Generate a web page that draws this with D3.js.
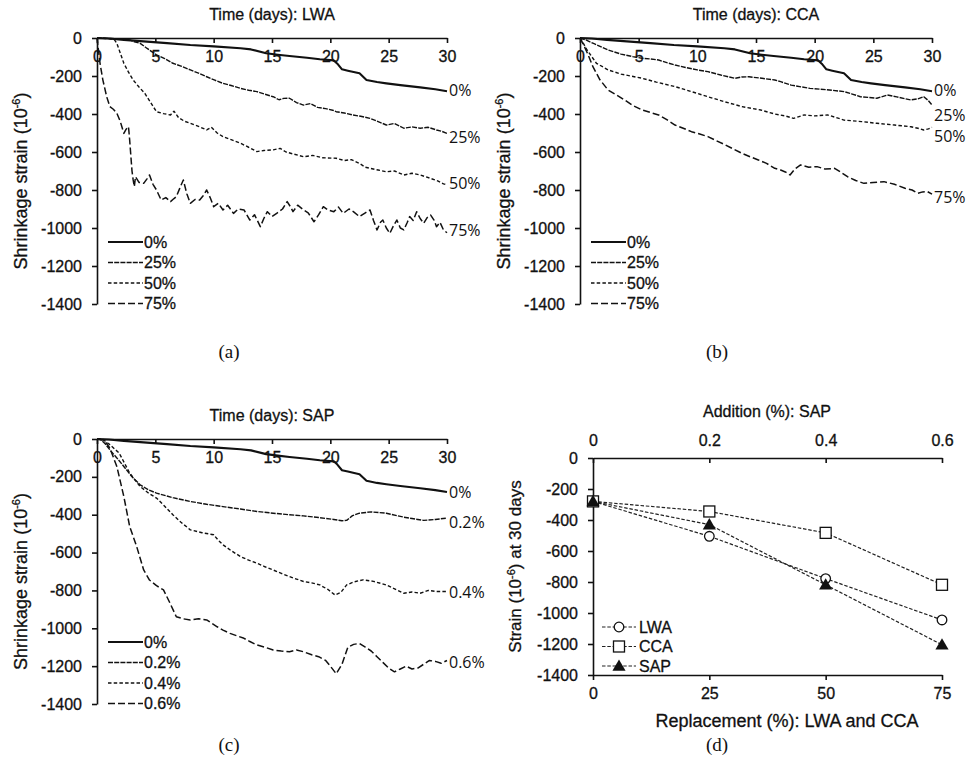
<!DOCTYPE html>
<html><head><meta charset="utf-8">
<script src="https://cdn.jsdelivr.net/npm/d3@7"></script>
<style>
body{margin:0;background:#fff;}
svg text{font-family:"Liberation Sans",Arial,sans-serif;fill:#111;stroke:#111;stroke-width:0.3px;}
svg text.plain{stroke:none;}
</style></head>
<body><svg id="c" width="972" height="772"></svg>
<script>
// ---------------- DATA ----------------
const dayTicks = [0,5,10,15,20,25,30];
const strainTicks = [0,-200,-400,-600,-800,-1000,-1200,-1400];

// reference mix (0%) — [day, strain 10^-6]
const control = [[0,0],[1,-3],[2.3,-10],[4,-18],[6,-27],[8,-37],[10,-44],[12.3,-54],[13.2,-60],[14.5,-80],[15.5,-88],[16.5,-95],[18,-104],[19.1,-112],[20.3,-118],[20.6,-135],[21,-165],[21.5,-172],[22.5,-186],[23.1,-221],[24,-232],[24.8,-239],[26,-248],[27.7,-260],[29,-270],[30,-280]];

const lwa25 = [[0,0],[1,-2],[2,-5],[2.8,-10],[3.2,-20],[3.7,-28],[4.3,-55],[5.1,-89],[5.8,-108],[6.5,-133],[7.2,-148],[8,-168],[8.7,-185],[9.4,-204],[10.1,-222],[10.8,-239],[11.5,-250],[12.3,-265],[13,-275],[13.7,-282],[14.4,-296],[15.1,-309],[15.6,-325],[16,-318],[16.5,-317],[17.1,-340],[17.7,-353],[18.3,-345],[18.9,-365],[19.6,-372],[20.2,-380],[20.5,-388],[21.2,-395],[21.9,-405],[22.6,-412],[23.4,-423],[24.1,-440],[24.8,-458],[25.5,-450],[26.3,-475],[27,-468],[27.7,-475],[28.4,-470],[29.1,-484],[29.5,-490],[30,-502]];
const lwa50 = [[0,0],[1,-3],[1.5,-10],[1.7,-28],[2,-80],[2.3,-133],[2.7,-180],[3.1,-221],[3.6,-258],[4.1,-291],[4.6,-340],[5.1,-388],[5.7,-398],[6.3,-405],[6.6,-385],[7,-420],[7.5,-438],[8,-449],[8.7,-465],[9.4,-484],[9.8,-470],[10.3,-500],[10.8,-519],[11.5,-535],[12.3,-554],[13,-575],[13.7,-598],[14.3,-592],[15.1,-589],[15.7,-581],[16.2,-600],[16.8,-610],[17.7,-625],[18.5,-618],[19.3,-630],[20.5,-633],[21.2,-645],[21.8,-640],[22.5,-660],[23,-680],[23.4,-686],[24.1,-695],[24.8,-704],[25.5,-700],[26.3,-721],[27,-712],[27.7,-721],[28.6,-739],[29.2,-752],[29.7,-768],[30,-772]];
const lwa75 = [[0,0],[0.26,-133],[0.5,-220],[0.83,-309],[1.1,-361],[1.4,-375],[1.7,-396],[2,-440],[2.3,-502],[2.5,-480],[2.7,-467],[2.8,-537],[3.0,-700],[3.1,-747],[3.2,-782],[3.3,-730],[3.6,-760],[4.0,-765],[4.3,-740],[4.5,-721],[4.8,-770],[5.1,-800],[5.5,-853],[5.9,-840],[6.3,-861],[6.6,-845],[6.8,-835],[7.1,-790],[7.4,-747],[7.7,-820],[8.0,-870],[8.4,-850],[8.8,-853],[9.1,-830],[9.4,-800],[9.7,-840],[10,-888],[10.4,-870],[10.8,-905],[11.2,-880],[11.7,-923],[12.1,-900],[12.6,-905],[13.1,-958],[13.5,-930],[14,-993],[14.3,-950],[14.6,-914],[15,-940],[15.4,-923],[15.9,-900],[16.3,-861],[16.6,-890],[16.8,-914],[17.2,-880],[17.7,-905],[18.1,-920],[18.6,-967],[19,-930],[19.4,-888],[19.8,-905],[20.3,-914],[20.7,-890],[21.1,-923],[21.6,-900],[22,-915],[22.5,-940],[23,-920],[23.4,-905],[23.7,-960],[24,-1010],[24.3,-970],[24.5,-958],[24.8,-1000],[25.1,-1028],[25.4,-990],[25.7,-958],[26,-1000],[26.3,-1010],[26.6,-970],[26.8,-940],[27.1,-960],[27.4,-914],[27.7,-950],[28,-975],[28.3,-945],[28.6,-932],[28.9,-960],[29.1,-993],[29.4,-970],[29.7,-1010],[30,-1025]];

const cca25 = [[0,0],[0.5,-10],[1.2,-30],[2.4,-63],[3.5,-85],[4.5,-98],[5.3,-107],[6,-110],[6.7,-116],[7.4,-130],[8.1,-142],[9,-155],[10,-168],[10.9,-177],[12,-195],[13.2,-212],[13.8,-205],[14.4,-204],[15.5,-212],[16.6,-221],[17.1,-230],[18,-248],[19.6,-265],[21,-272],[22.5,-282],[23.2,-295],[23.9,-309],[25.3,-317],[26.2,-300],[27,-310],[28.2,-326],[28.8,-320],[29.3,-309],[29.7,-330],[30,-353]];
const cca50 = [[0,0],[0.3,-30],[0.6,-63],[1.4,-133],[2.4,-168],[3.5,-190],[5.3,-212],[6.5,-232],[8.1,-256],[9.5,-282],[10.9,-309],[12.3,-335],[13.8,-361],[15.4,-379],[16.6,-400],[17.5,-410],[18.2,-423],[18.6,-415],[19.1,-405],[20,-410],[21.1,-405],[21.8,-418],[22.5,-432],[24,-440],[25.3,-449],[26.8,-458],[28.2,-467],[28.8,-475],[29.3,-484],[29.7,-478],[30,-470]];
const cca75 = [[0,0],[0.3,-35],[0.7,-90],[1.1,-151],[1.7,-220],[2.4,-274],[3.1,-300],[3.8,-326],[4.5,-355],[5.3,-379],[6,-392],[6.7,-405],[7.4,-430],[8.1,-458],[8.8,-475],[9.5,-493],[10.2,-505],[10.9,-519],[11.6,-540],[12.4,-563],[13.1,-585],[13.8,-607],[14.5,-625],[15.2,-642],[15.9,-660],[16.6,-686],[17.1,-695],[17.5,-705],[17.9,-721],[18.3,-690],[18.8,-668],[19.5,-680],[20.2,-677],[20.9,-690],[21.7,-686],[22.2,-705],[22.8,-730],[23.5,-750],[24.2,-765],[25,-760],[25.9,-756],[26.8,-770],[27.7,-791],[28.3,-800],[28.8,-817],[29.2,-810],[29.6,-808],[30,-822]];

const sap02 = [[0,0],[0.3,-2],[0.7,-25],[1.1,-57],[1.7,-100],[2.3,-145],[3,-200],[3.7,-242],[4.4,-268],[5.1,-286],[6.5,-310],[8,-330],[9.4,-345],[10.8,-357],[12.3,-370],[13.7,-383],[15.1,-392],[16.5,-400],[17.7,-406],[19,-415],[20.3,-425],[21,-432],[21.4,-430],[21.9,-405],[22.5,-392],[23.5,-385],[24.8,-392],[26.3,-413],[27,-420],[28,-430],[29,-425],[30,-418]];
const sap04 = [[0,0],[0.5,-2],[1.1,-30],[1.9,-74],[2.8,-180],[3.7,-251],[4.4,-285],[5.1,-312],[5.8,-355],[6.5,-400],[7.2,-440],[8,-480],[9,-495],[10,-506],[10.4,-535],[10.8,-559],[11.5,-590],[12.3,-621],[13,-640],[13.7,-656],[14.4,-675],[15.1,-692],[15.8,-710],[16.5,-727],[17.1,-740],[17.7,-753],[18.4,-760],[19.1,-771],[19.8,-795],[20.4,-824],[20.9,-810],[21.4,-771],[22,-755],[22.8,-744],[23.7,-752],[24.8,-771],[25.6,-795],[26.3,-815],[27,-808],[27.7,-815],[28.4,-800],[29.1,-806],[30,-806]];
const sap06 = [[0,0],[0.6,-5],[1.1,-48],[1.7,-145],[2.3,-304],[2.8,-462],[3.4,-568],[4,-692],[4.5,-745],[5.1,-775],[5.7,-797],[6.2,-860],[6.8,-939],[7.4,-950],[8,-956],[8.7,-950],[9.4,-956],[10.3,-992],[10.8,-1010],[11.4,-1027],[12,-1040],[12.6,-1053],[13.1,-1070],[13.7,-1088],[14.4,-1100],[15.1,-1115],[15.8,-1120],[16.5,-1124],[17.1,-1115],[17.7,-1124],[18.4,-1140],[19,-1150],[19.6,-1170],[20,-1200],[20.5,-1240],[21,-1190],[21.5,-1100],[22,-1085],[22.5,-1080],[23,-1100],[23.5,-1120],[24,-1150],[24.5,-1180],[25,-1210],[25.5,-1230],[26,-1215],[26.5,-1200],[27,-1215],[27.5,-1210],[28,-1190],[28.5,-1170],[29,-1175],[29.5,-1185],[30,-1170]];

const labelsAgg = ["0%","25%","50%","75%"];
const labelsSap = ["0%","0.2%","0.4%","0.6%"];

// panel (d): strain at 30 days
const replacement = [0,25,50,75];
const additionTicks = [0,0.2,0.4,0.6];
const lwa30 = [-280,-505,-778,-1045];
const cca30 = [-280,-345,-483,-818];
const sap30 = [-280,-430,-818,-1205];

// ---------------- DRAW ----------------
const svg = d3.select("#c");
svg.append("rect").attr("width",972).attr("height",772).attr("fill","#fff");

const styles = [
  {dash:null, w:2.1},
  {dash:"5,1.2", w:1.4},
  {dash:"3.5,2.2", w:1.4},
  {dash:"7,3", w:1.5}
];
const fmt = d => String(d);

function styleAxis(a){
  a.selectAll("path,line").attr("stroke","#111").attr("stroke-width",1.6);
  a.selectAll("text").style("font-size","16px").attr("fill","#111");
}

function timePanel(o){
  const x = d3.scaleLinear().domain([0,30]).range([o.x0,o.x1]);
  const y = d3.scaleLinear().domain([0,-1400]).range([o.y0,o.y1]);
  const g = svg.append("g");
  const ax = g.append("g").attr("transform",`translate(0,${o.y0})`)
    .call(d3.axisBottom(x).tickValues(dayTicks).tickFormat(fmt).tickSize(5).tickSizeOuter(0).tickPadding(8));
  const ay = g.append("g").attr("transform",`translate(${o.x0},0)`)
    .call(d3.axisLeft(y).tickValues(strainTicks).tickFormat(fmt).tickSize(5).tickSizeOuter(0).tickPadding(10));
  styleAxis(ax); styleAxis(ay);
  g.append("text").attr("x",(o.x0+o.x1)/2).attr("y",o.y0-18).attr("text-anchor","middle")
    .style("font-size","16px").text(o.title);
  const t = g.append("text").attr("transform",`translate(${o.x0-70},${(o.y0+o.y1)/2+10}) rotate(-90)`)
    .attr("text-anchor","middle").style("font-size","18px");
  t.append("tspan").text("Shrinkage strain (10");
  t.append("tspan").attr("dy","-7").style("font-size","11px").text("-6");
  t.append("tspan").attr("dy","7").text(")");
  const line = d3.line().x(d=>x(d[0])).y(d=>y(d[1]));
  o.series.forEach((s,i)=>{
    g.append("path").datum(s).attr("d",line).attr("fill","none").attr("stroke","#111")
      .attr("stroke-width",styles[i].w).attr("stroke-dasharray",styles[i].dash).attr("stroke-linejoin","round");
    g.append("text").attr("class","plain").attr("x",x(30)+2).attr("y",y(o.labelAt[i])).attr("dy","0.36em")
      .style("font-family","'Open Sans','DejaVu Sans',sans-serif").style("font-size","16px").attr("fill","#222")
      .text(o.labels[i]);
    // legend
    const ly = o.legY + i*20.5;
    g.append("line").attr("x1",o.x0+11).attr("x2",o.x0+46).attr("y1",ly).attr("y2",ly)
      .attr("stroke","#111").attr("stroke-width",styles[i].w).attr("stroke-dasharray",styles[i].dash);
    g.append("text").attr("x",o.x0+47).attr("y",ly).attr("dy","0.36em").style("font-size","16px").text(o.labels[i]);
  });
  svg.append("text").attr("class","plain").attr("x",o.capX).attr("y",o.capY).attr("text-anchor","middle")
    .style("font-family","'Liberation Serif','Times New Roman',serif").style("font-size","19px").text(o.cap);
}

timePanel({x0:97,x1:447,y0:38,y1:304,title:"Time (days): LWA",series:[control,lwa25,lwa50,lwa75],
  labels:labelsAgg,labelAt:[-275,-520,-765,-1010],legY:242,cap:"(a)",capX:229,capY:358});
timePanel({x0:580,x1:932,y0:38,y1:304,title:"Time (days): CCA",series:[control,cca25,cca50,cca75],
  labels:labelsAgg,labelAt:[-275,-405,-515,-840],legY:242,cap:"(b)",capX:717,capY:358});
timePanel({x0:97,x1:447,y0:439,y1:704,title:"Time (days): SAP",series:[control,sap02,sap04,sap06],
  labels:labelsSap,labelAt:[-280,-440,-808,-1180],legY:642,cap:"(c)",capX:229,capY:751});

// panel (d)
(function(){
  const x0=593,x1=942,y0=458,y1=675;
  const x = d3.scaleLinear().domain([0,75]).range([x0,x1]);
  const xt = d3.scaleLinear().domain([0,0.6]).range([x0,x1]);
  const y = d3.scaleLinear().domain([0,-1400]).range([y0,y1]);
  const g = svg.append("g");
  const ab = g.append("g").attr("transform",`translate(0,${y1})`)
    .call(d3.axisBottom(x).tickValues(replacement).tickFormat(fmt).tickSize(5).tickSizeOuter(0).tickPadding(8));
  const at = g.append("g").attr("transform",`translate(0,${y0})`)
    .call(d3.axisTop(xt).tickValues(additionTicks).tickFormat(d=>d===0?"0":d3.format(".1f")(d)).tickSize(-5).tickSizeOuter(0).tickPadding(12));
  const al = g.append("g").attr("transform",`translate(${x0},0)`)
    .call(d3.axisLeft(y).tickValues(strainTicks).tickFormat(fmt).tickSize(5).tickSizeOuter(0).tickPadding(10));
  [ab,at,al].forEach(styleAxis);
  g.append("text").attr("x",767).attr("y",417).attr("text-anchor","middle").style("font-size","16px").text("Addition (%): SAP");
  g.append("text").attr("x",787).attr("y",727).attr("text-anchor","middle")
    .style("font-family","'Liberation Sans Narrow','Liberation Sans',sans-serif").style("font-size","18px")
    .text("Replacement  (%): LWA and CCA");
  const t = g.append("text").attr("transform",`translate(521,${(y0+y1)/2}) rotate(-90)`)
    .attr("text-anchor","middle").style("font-size","17px");
  t.append("tspan").text("Strain (10");
  t.append("tspan").attr("dy","-6").style("font-size","11px").text("-6");
  t.append("tspan").attr("dy","6").text(") at 30 days");

  const sets = [
    {name:"LWA",v:lwa30,m:"circle"},
    {name:"CCA",v:cca30,m:"square"},
    {name:"SAP",v:sap30,m:"triangle"}
  ];
  const line = d3.line().x((d,i)=>x(replacement[i])).y(d=>y(d));
  function marker(sel,type,cx,cy){
    if(type==="circle") sel.append("circle").attr("cx",cx).attr("cy",cy).attr("r",4.8).attr("fill","#fff").attr("stroke","#111").attr("stroke-width",1.3);
    else if(type==="square") sel.append("rect").attr("x",cx-5.5).attr("y",cy-5.5).attr("width",11).attr("height",11).attr("fill","#fff").attr("stroke","#111").attr("stroke-width",1.3);
    else sel.append("path").attr("d",d3.symbol(d3.symbolTriangle,75)()).attr("transform",`translate(${cx},${cy+1})`).attr("fill","#111");
  }
  sets.forEach(s=>{
    g.append("path").datum(s.v).attr("d",line).attr("fill","none").attr("stroke","#222").attr("stroke-width",1.2).attr("stroke-dasharray","3.5,1.8");
  });
  sets.forEach(s=>{ s.v.forEach((v,i)=>marker(g,s.m,x(replacement[i]),y(v))); });
  sets.forEach((s,i)=>{
    const ly = 627 + i*19.5;
    g.append("line").attr("x1",602).attr("x2",636).attr("y1",ly).attr("y2",ly).attr("stroke","#222").attr("stroke-width",1.2).attr("stroke-dasharray","3.5,1.8");
    marker(g,s.m,619,ly);
    g.append("text").attr("x",639).attr("y",ly).attr("dy","0.36em").style("font-size","16px").text(s.name);
  });
  svg.append("text").attr("class","plain").attr("x",717).attr("y",751).attr("text-anchor","middle")
    .style("font-family","'Liberation Serif','Times New Roman',serif").style("font-size","19px").text("(d)");
})();
</script></body></html>
